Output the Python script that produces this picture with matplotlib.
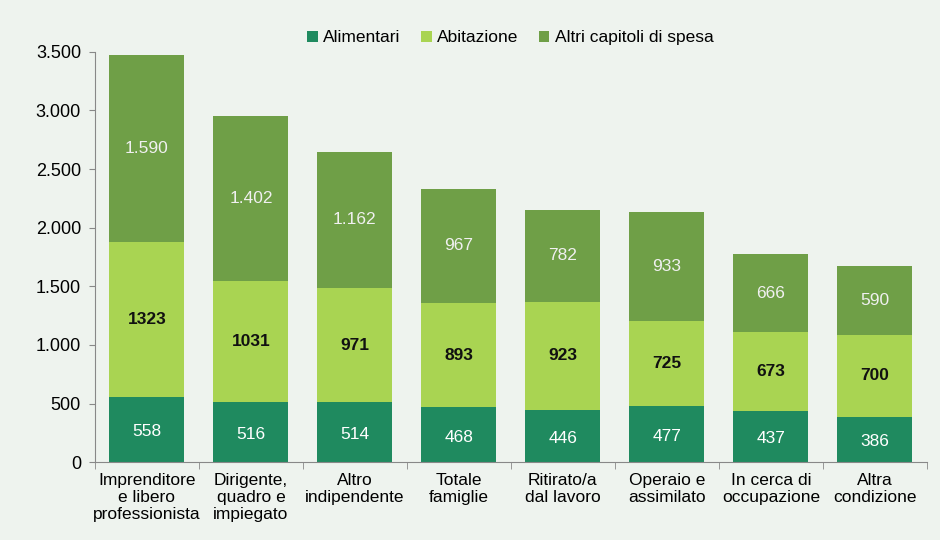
import matplotlib
matplotlib.use("Agg")
import matplotlib.pyplot as plt
import numpy as np
from matplotlib.ticker import FuncFormatter

plt.rcParams.update({
    'font.family': ['Liberation Sans', 'DejaVu Sans'],
    'font.size': 12,
})

# Data
categories = ["Imprenditore\ne libero\nprofessionista", "Dirigente,\nquadro e\nimpiegato",
              "Altro\nindipendente", "Totale\nfamiglie", "Ritirato/a\ndal lavoro",
              "Operaio e\nassimilato", "In cerca di\noccupazione", "Altra\ncondizione"]
alimentari = [558, 516, 514, 468, 446, 477, 437, 386]
abitazione = [1323, 1031, 971, 893, 923, 725, 673, 700]
altri = [1590, 1402, 1162, 967, 782, 933, 666, 590]
altri_labels = ["1.590", "1.402", "1.162", "967", "782", "933", "666", "590"]

BG = '#eef3ee'
C_ALIM = '#1f8a5f'
C_ABIT = '#a9d452'
C_ALTRI = '#6f9f47'

fig = plt.figure(figsize=(9.4, 5.4), dpi=100, facecolor=BG)
ax = fig.add_axes([0.101, 0.144, 0.885, 0.760], facecolor=BG)

x = np.arange(len(categories))
w = 0.72
alim = np.array(alimentari)
abit = np.array(abitazione)
alt = np.array(altri)

b1 = ax.bar(x, alim, w, color=C_ALIM, label='Alimentari')
b2 = ax.bar(x, abit, w, bottom=alim, color=C_ABIT, label='Abitazione')
b3 = ax.bar(x, alt, w, bottom=alim + abit, color=C_ALTRI, label='Altri capitoli di spesa')

for i in range(len(x)):
    ax.text(x[i], alim[i] / 2 - 20, str(alimentari[i]), ha='center', va='center',
            color='white', fontsize=12.5)
    ax.text(x[i], alim[i] + abit[i] / 2, str(abitazione[i]), ha='center', va='center',
            color='#111111', fontsize=12.5, fontweight='bold')
    ax.text(x[i], alim[i] + abit[i] + alt[i] / 2, altri_labels[i], ha='center',
            va='center', color='#f0f0f0', fontsize=12.5)

ax.set_xlim(-0.5, len(x) - 0.5)
ax.set_ylim(0, 3500)
ax.set_yticks(np.arange(0, 3501, 500))
ax.yaxis.set_major_formatter(FuncFormatter(lambda v, p: f"{int(v):,}".replace(",", ".")))
ax.tick_params(axis='y', labelsize=13, length=4, color='#888888', pad=6)

ax.set_xticks(x)
ax.set_xticklabels(categories, fontsize=12.5, linespacing=1.15)
ax.tick_params(axis='x', length=0, pad=8)
ax.set_xticks(np.arange(-0.5, len(x), 1), minor=True)
ax.tick_params(axis='x', which='minor', length=5, color='#888888')

for s in ['top', 'right']:
    ax.spines[s].set_visible(False)
ax.spines['left'].set_color('#888888')
ax.spines['bottom'].set_color('#888888')

fig.legend(handles=[b1, b2, b3], loc='center', bbox_to_anchor=(0.543, 0.93), ncol=3,
           frameon=False, fontsize=12.5, handlelength=0.6, handleheight=0.6,
           handletextpad=0.3, columnspacing=1.2)

fig.savefig('out.png', dpi=100, facecolor=BG)
